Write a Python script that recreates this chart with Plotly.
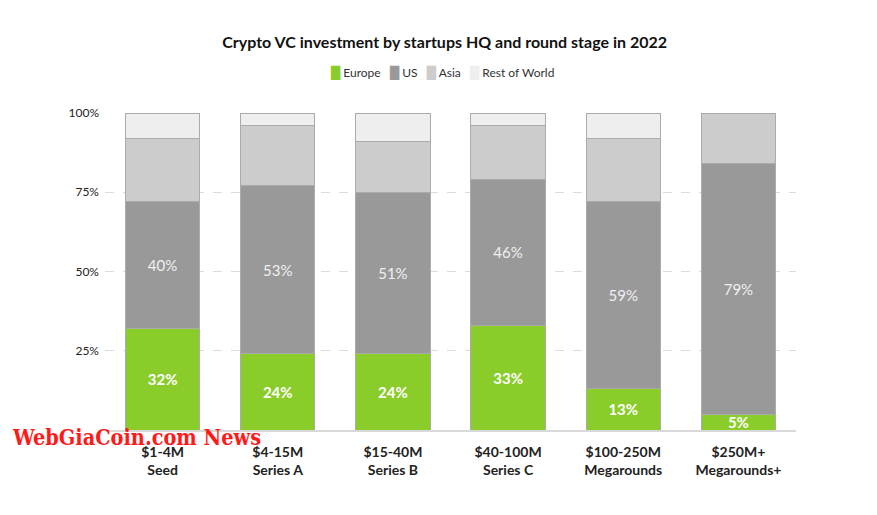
import plotly.graph_objects as go

categories = ["$1-4M<br>Seed", "$4-15M<br>Series A", "$15-40M<br>Series B",
              "$40-100M<br>Series C", "$100-250M<br>Megarounds", "$250M+<br>Megarounds+"]
europe = [32, 24, 24, 33, 13, 5]
us = [40, 53, 51, 46, 59, 79]
asia = [20, 19, 16, 17, 20, 16]
rest_of_world = [8, 4, 9, 4, 8, 0]

series_names = ["Europe", "US", "Asia", "Rest of World"]
series_colors = ["#8acd2a", "#999999", "#cccccc", "#eeeeee"]

ytick_vals = [25, 50, 75, 100]
ytick_text = ["25%", "50%", "75%", "100%"]

FONT = "Lato"
line = dict(color="#ababab", width=1)

fig = go.Figure()
fig.add_trace(go.Bar(
    x=categories, y=europe, name=series_names[0],
    marker=dict(color=series_colors[0], line=line),
    texttemplate="<b>%{y}%</b>", textposition="inside", insidetextanchor="middle",
    constraintext="none",
    textfont=dict(color="white", size=15, family=FONT),
))
fig.add_trace(go.Bar(
    x=categories, y=us, name=series_names[1],
    marker=dict(color=series_colors[1], line=line),
    texttemplate="%{y}%", textposition="inside", insidetextanchor="middle",
    constraintext="none",
    textfont=dict(color="#f0f0f0", size=15, family=FONT),
))
fig.add_trace(go.Bar(
    x=categories, y=asia, name=series_names[2],
    marker=dict(color=series_colors[2], line=line), textposition="none",
))
fig.add_trace(go.Bar(
    x=categories, y=rest_of_world, name=series_names[3],
    marker=dict(color=series_colors[3], line=line), textposition="none",
))

# compact legend (swatch + label) as one text line
legend_text = "&nbsp;&nbsp;&nbsp;".join(
    f'<span style="color:{c};font-family:DejaVu Sans">█</span>&nbsp;{n}'
    for n, c in zip(series_names, series_colors))

fig.update_layout(
    barmode="stack",
    bargap=0.355,
    width=877, height=515,
    margin=dict(l=105, r=81, t=113, b=85),
    plot_bgcolor="white", paper_bgcolor="white",
    font=dict(family=FONT, color="#333333"),
    title=dict(text="<b>Crypto VC investment by startups HQ and round stage in 2022</b>",
               x=0.507, xref="container", xanchor="center",
               y=1 - 42 / 515, yref="container", yanchor="middle",
               font=dict(size=16, color="#111111", family=FONT)),
    showlegend=False,
    annotations=[
        dict(text=legend_text, xref="paper", yref="paper",
             x=(442 - 105) / 691, y=(430 - 73) / 317, xanchor="center", yanchor="middle",
             showarrow=False, font=dict(size=12, color="#333333", family=FONT)),
        dict(text="<b>WebGiaCoin.com News</b>", xref="paper", yref="paper",
             x=(10 - 105) / 691, y=(430 - 437) / 317, xanchor="left", yanchor="middle",
             showarrow=False,
             font=dict(size=21.5, color="#ff1a1a", family="DejaVu Serif Condensed")),
    ],
)
fig.update_yaxes(range=[0, 100], tickvals=ytick_vals, ticktext=ytick_text,
                 showgrid=True, gridcolor="#dcdcdc", griddash="dash", gridwidth=1,
                 zeroline=False, showline=False, ticks="", ticklabelstandoff=5,
                 tickfont=dict(size=12, color="#222222", family=FONT))
fig.update_xaxes(showline=True, linecolor="#d9d9d9", linewidth=2, ticks="",
                 ticklabelstandoff=8,
                 tickvals=categories, ticktext=[f"<b>{c}</b>" for c in categories],
                 tickfont=dict(size=14, color="#222222", family=FONT))

fig.write_html("out.html", config={"displayModeBar": False},
               post_script="document.body.style.margin='0';")
